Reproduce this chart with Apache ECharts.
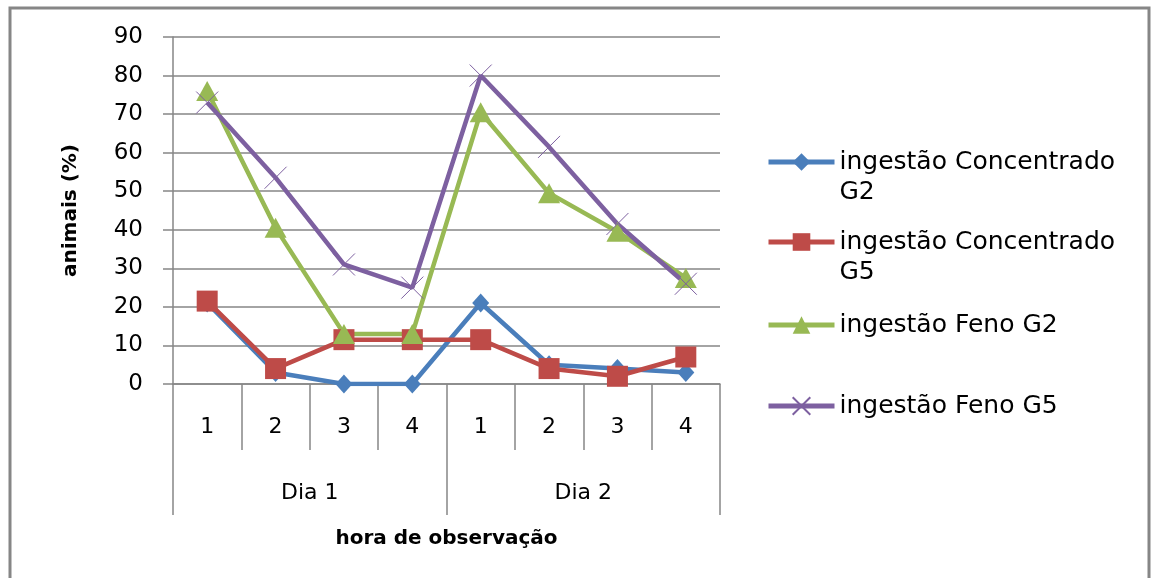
<!DOCTYPE html>
<html>
<head>
<meta charset="utf-8">
<script src="https://cdn.jsdelivr.net/npm/echarts@6/dist/echarts.min.js"></script>
<style>
  html, body { margin: 0; padding: 0; background: #fff; }
  #chart { width: 1151px; height: 578px; }
</style>
</head>
<body>
<div id="chart"></div>
<script>
const horas = ['1', '2', '3', '4', '1', '2', '3', '4']
const dias = ['Dia 1', 'Dia 2']
const concG2 = [21, 3, 0, 0, 21, 5, 4, 3]
const concG5 = [21.5, 4, 11.5, 11.5, 11.5, 4, 2, 7]
const fenoG2 = [76, 40.5, 13, 13, 70.5, 49.5, 39.5, 27.5]
const fenoG5 = [73, 53.5, 31, 25, 80, 61.5, 41.5, 26]

const gridColor = '#868686'
const textFont = 'DejaVu Sans'
const chart = echarts.init(document.getElementById('chart'), null, { renderer: 'canvas' })

const mkLegend = (name, top, twoLines) => ({
  data: [name],
  orient: 'vertical',
  left: 766,
  top: top,
  padding: 0,
  itemWidth: 66,
  itemHeight: 22,
  itemGap: 5,
  selectedMode: false,
  lineStyle: { width: 5 },
  formatter: function (n) {
    if (!twoLines) return n
    // primeira linha em branco para o ícone ficar alinhado com a 1a linha
    const i = n.lastIndexOf(' ')
    return '\n' + n.slice(0, i) + '\n' + n.slice(i + 1)
  },
  textStyle: { fontFamily: textFont, fontSize: 25, color: '#000', lineHeight: 30 }
})

const option = {
  animation: false,
  backgroundColor: '#fff',
  graphic: [
    {
      type: 'rect',
      shape: { x: 10, y: 8, width: 1139, height: 620 },
      style: { fill: 'none', stroke: gridColor, lineWidth: 3 },
      silent: true
    }
  ],
  grid: { left: 173, top: 37, right: 431, bottom: 194 },
  legend: [
    mkLegend('ingestão Concentrado G2', 117, true),
    mkLegend('ingestão Concentrado G5', 197, true),
    mkLegend('ingestão Feno G2', 310, false),
    mkLegend('ingestão Feno G5', 391, false)
  ],
  xAxis: [
    {
      type: 'category',
      data: horas,
      position: 'bottom',
      boundaryGap: true,
      axisLine: { lineStyle: { color: gridColor, width: 1.5 } },
      axisTick: { show: true, length: 66, interval: 0, lineStyle: { color: gridColor, width: 1.5 } },
      axisLabel: { interval: 0, margin: 32, fontFamily: textFont, fontSize: 22, color: '#000' }
    },
    {
      type: 'category',
      data: dias,
      position: 'bottom',
      boundaryGap: true,
      axisLine: { show: false },
      axisTick: { show: true, length: 131, interval: 0, lineStyle: { color: gridColor, width: 1.5 } },
      axisLabel: { interval: 0, margin: 98, fontFamily: textFont, fontSize: 22, color: '#000' },
      name: 'hora de observação',
      nameLocation: 'middle',
      nameGap: 145,
      nameTextStyle: { fontFamily: textFont, fontSize: 20, fontWeight: 'bold', color: '#000' }
    }
  ],
  yAxis: {
    type: 'value',
    min: 0,
    max: 90,
    interval: 10,
    name: 'animais (%)',
    nameLocation: 'middle',
    nameGap: 92,
    nameTextStyle: { fontFamily: textFont, fontSize: 20, fontWeight: 'bold', color: '#000' },
    axisLine: { show: true, lineStyle: { color: gridColor, width: 1.5 } },
    axisTick: { show: true, length: 10, lineStyle: { color: gridColor, width: 1.5 } },
    axisLabel: { margin: 30, fontFamily: textFont, fontSize: 23, color: '#000' },
    splitLine: { lineStyle: { color: gridColor, width: 1.5 } }
  },
  series: [
    {
      name: 'ingestão Concentrado G2',
      type: 'line',
      data: concG2,
      symbol: 'diamond',
      symbolSize: [17, 19],
      lineStyle: { color: '#4A7EBB', width: 4.5 },
      itemStyle: { color: '#4A7EBB' }
    },
    {
      name: 'ingestão Concentrado G5',
      type: 'line',
      data: concG5,
      symbol: 'rect',
      symbolSize: 21,
      lineStyle: { color: '#BE4B48', width: 4.5 },
      itemStyle: { color: '#BE4B48' }
    },
    {
      name: 'ingestão Feno G2',
      type: 'line',
      data: fenoG2,
      symbol: 'triangle',
      symbolSize: [22, 20],
      lineStyle: { color: '#98B954', width: 4.5 },
      itemStyle: { color: '#98B954' }
    },
    {
      name: 'ingestão Feno G5',
      type: 'line',
      data: fenoG5,
      symbol: 'path://M0,0L10,10M10,0L0,10',
      symbolSize: 22,
      lineStyle: { color: '#7D60A0', width: 4.5 },
      itemStyle: { color: '#7D60A0', borderColor: '#7D60A0', borderWidth: 1 }
    }
  ]
}

chart.setOption(option)
window.addEventListener('resize', function () {
  chart.resize()
})
</script>
</body>
</html>
